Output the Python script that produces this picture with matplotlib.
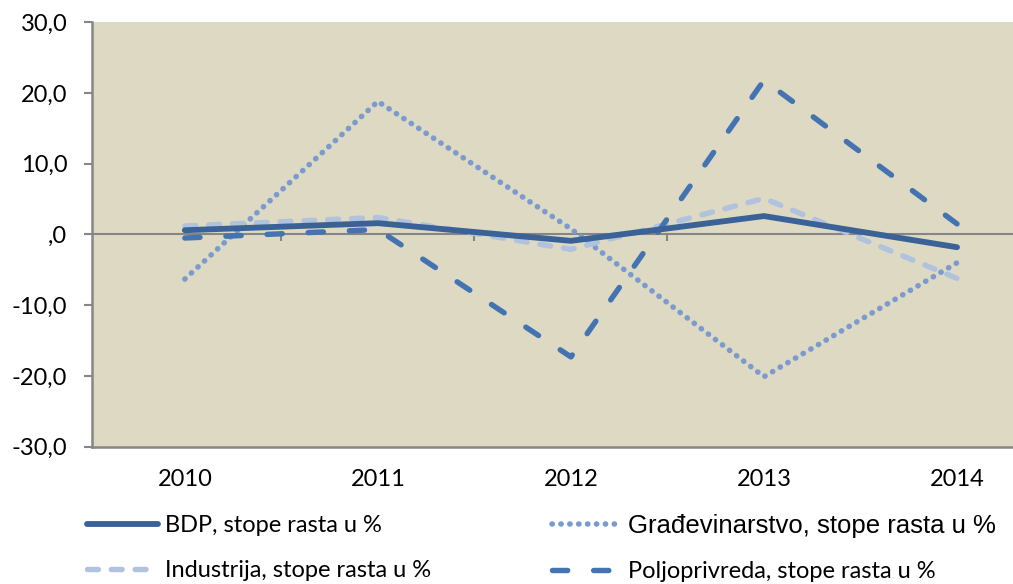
import matplotlib
matplotlib.use("Agg")
import matplotlib.pyplot as plt
from matplotlib.ticker import FuncFormatter

plt.rcParams['font.family'] = ['Lato', 'DejaVu Sans']

# data
years = ['2010', '2011', '2012', '2013', '2014']
bdp = [0.6, 1.6, -0.9, 2.6, -1.8]
gradjevinarstvo = [-6.3, 18.8, 0.8, -20.1, -4.0]
industrija = [1.2, 2.4, -2.1, 5.1, -6.2]
poljoprivreda = [-0.5, 0.7, -17.3, 21.8, 1.5]

labels = ['BDP, stope rasta u %', 'Građevinarstvo, stope rasta u %',
          'Industrija, stope rasta u %', 'Poljoprivreda, stope rasta u %']

bg = '#DDD9C3'
axis_grey = '#868686'

fig = plt.figure(figsize=(10.13, 5.84), dpi=100)
ax = fig.add_axes([0.091, 0.235, 0.909, 0.727])
ax.set_facecolor(bg)

x = range(len(years))
l1, = ax.plot(x, bdp, color='#3A6296', lw=4.2, solid_capstyle='round', zorder=4)
l2, = ax.plot(x, gradjevinarstvo, color='#7B9BCF', lw=4.0, linestyle=(0, (0.05, 1.55)),
              dash_capstyle='round', zorder=3)
l3, = ax.plot(x, industrija, color='#B0C2DE', lw=3.9, linestyle=(0, (2.0, 2.4)),
              dash_capstyle='round', zorder=3)
l4, = ax.plot(x, poljoprivreda, color='#4373B1', lw=3.9, linestyle=(0, (2.8, 4.8)),
              dash_capstyle='round', zorder=3)

ax.set_xlim(-0.48, 4.29)
ax.set_ylim(-30, 30)
ax.set_yticks(range(-30, 31, 10))
ax.yaxis.set_major_formatter(FuncFormatter(lambda v, p: ',0' if v == 0 else f'{v:.1f}'.replace('.', ',')))
ax.set_xticks(list(x))
ax.set_xticklabels(years)
ax.tick_params(axis='x', length=0, labelsize=17, pad=16)
ax.tick_params(axis='y', length=6, width=1.5, color=axis_grey, labelsize=17, pad=12)

for s in ['top', 'right']:
    ax.spines[s].set_visible(False)
for s in ['left', 'bottom']:
    ax.spines[s].set_color(axis_grey)
    ax.spines[s].set_linewidth(1.8)

# category axis crosses at zero
ax.axhline(0, color=axis_grey, lw=1.5, zorder=2)
ax.vlines([0.5, 1.5, 2.5, 3.5], -0.9, 0, color=axis_grey, lw=1.5, zorder=2)

# legend, two columns placed like the original
leg1 = fig.legend([l1, l3], [labels[0], labels[2]], loc='center left',
                  bbox_to_anchor=(87 / 1013, 1 - 548 / 584), frameon=False,
                  fontsize=17, handlelength=3.0, handletextpad=0.3,
                  labelspacing=1.0, borderpad=0, borderaxespad=0)
leg2 = fig.legend([l2, l4], [labels[1], labels[3]], loc='center left',
                  bbox_to_anchor=(552 / 1013, 1 - 548 / 584), frameon=False,
                  fontsize=17, handlelength=2.7, handletextpad=0.5,
                  labelspacing=1.0, borderpad=0, borderaxespad=0)
t = leg2.get_texts()[0]
t.set_fontfamily(['Liberation Sans', 'DejaVu Sans'])
t.set_fontsize(18.5)

fig.savefig('out.png', dpi=100)
